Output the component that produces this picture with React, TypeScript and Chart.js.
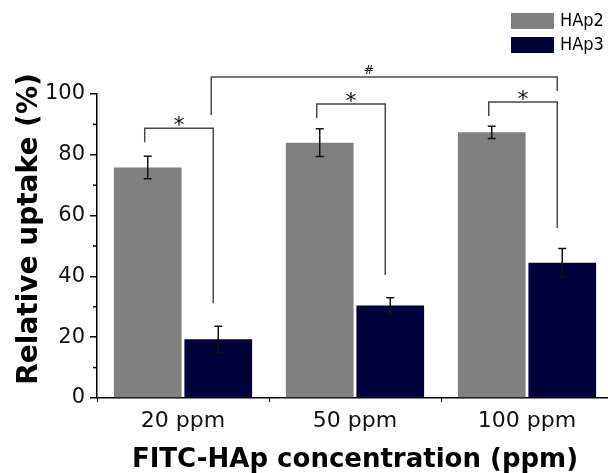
import React, { useEffect, useRef } from 'react';
import { Chart, registerables } from 'chart.js';

Chart.register(...registerables);

const categories = ['20 ppm', '50 ppm', '100 ppm'];
const seriesNames = ['HAp2', 'HAp3'];
const seriesColors = ['#808080', '#01013c'];
const hap2Values = [75.8, 84.0, 87.4];
const hap2Errors = [3.7, 4.6, 2.0];
const hap3Values = [19.3, 30.4, 44.5];
const hap3Errors = [4.3, 2.6, 4.7];
const yTicks = [0, 20, 40, 60, 80, 100];
const yMinorTicks = [10, 30, 50, 70, 90];
// "*" brackets per category: top line, left end, right end (data units)
const starTop = [88.7, 96.7, 97.4];
const starLeftEnd = [84.1, 92.1, 92.8];
const starRightEnd = [31.2, 40.5, 55.9];
// "#" bracket from 20 ppm HAp3 to 100 ppm HAp3: top, left end, right end
const hashBracket = [105.6, 93.1, 101.0];

const FONT = '"DejaVu Sans", sans-serif';
const FONT_COND = '"DejaVu Sans Condensed", "DejaVu Sans", sans-serif';

const decorPlugin = {
  id: 'decor',
  afterDatasetsDraw(chart: any) {
    const ctx = chart.ctx;
    const y = chart.scales.y;
    ctx.save();
    ctx.strokeStyle = '#111';
    ctx.lineWidth = 1.5;
    chart.data.datasets.forEach((ds: any, i: number) => {
      const meta = chart.getDatasetMeta(i);
      meta.data.forEach((bar: any, j: number) => {
        const v = ds.data[j];
        const e = ds.errors[j];
        const x = bar.x;
        const yt = y.getPixelForValue(v + e);
        const yb = y.getPixelForValue(v - e);
        ctx.beginPath();
        ctx.moveTo(x, yt);
        ctx.lineTo(x, yb);
        ctx.moveTo(x - 4, yt);
        ctx.lineTo(x + 4, yt);
        ctx.moveTo(x - 4, yb);
        ctx.lineTo(x + 4, yb);
        ctx.stroke();
      });
    });
    ctx.restore();
  },
  afterDraw(chart: any) {
    const ctx = chart.ctx;
    const y = chart.scales.y;
    const xs = chart.scales.x;
    const area = chart.chartArea;
    const m0 = chart.getDatasetMeta(0);
    const m1 = chart.getDatasetMeta(1);

    // minor y ticks
    ctx.save();
    ctx.strokeStyle = '#000';
    ctx.lineWidth = 1.5;
    yMinorTicks.forEach((v) => {
      const py = y.getPixelForValue(v);
      ctx.beginPath();
      ctx.moveTo(area.left - 4, py);
      ctx.lineTo(area.left, py);
      ctx.stroke();
    });
    ctx.restore();

    // significance brackets
    ctx.save();
    ctx.strokeStyle = '#4a4a4a';
    ctx.lineWidth = 1.5;
    ctx.fillStyle = '#111';
    ctx.textAlign = 'center';
    ctx.textBaseline = 'alphabetic';
    categories.forEach((_, j) => {
      const xl = m0.data[j].x - 3;
      const xr = m1.data[j].x - 5;
      const yt = y.getPixelForValue(starTop[j]);
      ctx.beginPath();
      ctx.moveTo(xl, y.getPixelForValue(starLeftEnd[j]));
      ctx.lineTo(xl, yt);
      ctx.lineTo(xr, yt);
      ctx.lineTo(xr, y.getPixelForValue(starRightEnd[j]));
      ctx.stroke();
      ctx.font = '22px ' + FONT;
      ctx.fillText('*', (xl + xr) / 2, yt + 4);
    });
    {
      const xl = m1.data[0].x - 7;
      const xr = m1.data[2].x - 5;
      const yt = y.getPixelForValue(hashBracket[0]);
      ctx.beginPath();
      ctx.moveTo(xl, y.getPixelForValue(hashBracket[1]));
      ctx.lineTo(xl, yt);
      ctx.lineTo(xr, yt);
      ctx.lineTo(xr, y.getPixelForValue(hashBracket[2]));
      ctx.stroke();
      ctx.font = '12px ' + FONT;
      ctx.fillText('#', xs.getPixelForValue(1) + 14, yt - 3);
    }
    ctx.restore();

    // y axis title
    ctx.save();
    ctx.font = 'bold 28px ' + FONT;
    ctx.fillStyle = '#000';
    ctx.textAlign = 'center';
    ctx.textBaseline = 'alphabetic';
    ctx.translate(37, (area.top + area.bottom) / 2 - 17);
    ctx.rotate(-Math.PI / 2);
    ctx.fillText('Relative uptake (%)', 0, 0);
    ctx.restore();

    // legend
    ctx.save();
    ctx.font = '18px ' + FONT_COND;
    ctx.textAlign = 'left';
    ctx.textBaseline = 'middle';
    chart.data.datasets.forEach((ds: any, i: number) => {
      const by = 13 + i * 24;
      ctx.fillStyle = ds.backgroundColor;
      ctx.fillRect(511, by, 43, 16);
      ctx.fillStyle = '#000';
      ctx.fillText(ds.label, 560, by + 8);
    });
    ctx.restore();
  },
};

export default function App() {
  const ref = useRef<HTMLCanvasElement>(null);
  useEffect(() => {
    if (!ref.current) return;
    const chart = new Chart(ref.current, {
      type: 'bar',
      data: {
        labels: categories,
        datasets: [
          {
            label: seriesNames[0],
            data: hap2Values,
            errors: hap2Errors,
            backgroundColor: seriesColors[0],
            categoryPercentage: 0.82,
            barPercentage: 0.96,
          } as any,
          {
            label: seriesNames[1],
            data: hap3Values,
            errors: hap3Errors,
            backgroundColor: seriesColors[1],
            categoryPercentage: 0.82,
            barPercentage: 0.96,
          } as any,
        ],
      },
      options: {
        animation: false,
        responsive: false,
        devicePixelRatio: 1,
        layout: { padding: { top: 94, right: 12, left: 0, bottom: 0 } },
        plugins: { legend: { display: false }, tooltip: { enabled: false } },
        scales: {
          x: {
            offset: true,
            grid: { display: true, drawOnChartArea: false, drawTicks: true, tickLength: 4, color: '#000', lineWidth: 1, offset: true },
            border: { display: true, color: '#000', width: 1.5 },
            ticks: { color: '#111', font: { family: FONT, size: 22 }, padding: 6 },
            title: {
              display: true,
              text: 'FITC-HAp concentration (ppm)',
              color: '#000',
              font: { family: FONT, size: 26, weight: 'bold', lineHeight: 1 },
              padding: 0,
            },
            afterFit: (s: any) => { s.height = 75; },
          },
          y: {
            min: 0,
            max: 100,
            afterBuildTicks: (s: any) => { s.ticks = yTicks.map((v) => ({ value: v })); },
            grid: { drawOnChartArea: false, tickLength: 7, color: '#000', lineWidth: 1.5 },
            border: { display: true, color: '#000', width: 1.5 },
            ticks: { color: '#111', font: { family: FONT, size: 21 }, padding: 5 },
            afterFit: (s: any) => { s.width = 97; },
          },
        },
      } as any,
      plugins: [decorPlugin],
    });
    return () => chart.destroy();
  }, []);
  return (
    <div style={{ position: 'fixed', left: 0, top: 0, width: 608, height: 473, overflow: 'hidden', background: '#fff' }}>
      <canvas ref={ref} width={625} height={473} style={{ display: 'block', width: 625, height: 473 }} />
    </div>
  );
}
